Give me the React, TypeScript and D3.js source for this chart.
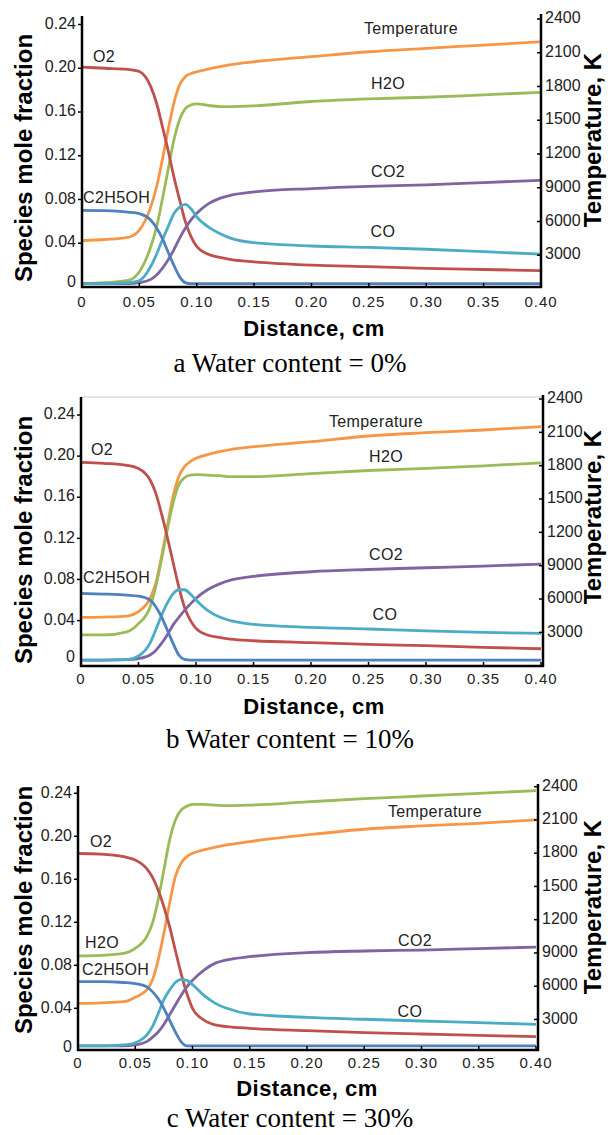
import React from 'react';
import * as d3 from 'd3';

// distance (cm) sample points shared by every series
const distance = [0, 0.02, 0.04, 0.05, 0.06, 0.065, 0.07, 0.075, 0.08, 0.085, 0.09, 0.095, 0.1, 0.11, 0.12, 0.13, 0.15, 0.2, 0.25, 0.3, 0.35, 0.4];

// a: water content 0%
const o2A = [0.201, 0.2, 0.199, 0.197, 0.183, 0.168, 0.147, 0.125, 0.101, 0.08, 0.06, 0.046, 0.037, 0.03, 0.027, 0.025, 0.023, 0.02, 0.0186, 0.017, 0.016, 0.015];
const tempA = [430, 440, 459, 524, 732, 909, 1146, 1413, 1650, 1813, 1887, 1915, 1931, 1955, 1976, 1995, 2020, 2065, 2109, 2139, 2168, 2198];
const h2oA = [0.003, 0.004, 0.006, 0.014, 0.037, 0.055, 0.08, 0.107, 0.134, 0.153, 0.163, 0.1665, 0.1675, 0.166, 0.165, 0.165, 0.1656, 0.1696, 0.172, 0.1735, 0.1757, 0.178];
const co2A = [0.003, 0.003, 0.003, 0.004, 0.007, 0.011, 0.017, 0.0247, 0.034, 0.0445, 0.0537, 0.0613, 0.0674, 0.076, 0.081, 0.084, 0.087, 0.09, 0.092, 0.0933, 0.0955, 0.0976];
const coA = [0.003, 0.003, 0.004, 0.006, 0.019, 0.03, 0.043, 0.055, 0.067, 0.073, 0.0755, 0.0715, 0.064, 0.055, 0.049, 0.0445, 0.0405, 0.0375, 0.0363, 0.0345, 0.0323, 0.03];
const ethA = [0.07, 0.0698, 0.0685, 0.067, 0.061, 0.054, 0.0445, 0.032, 0.02, 0.0095, 0.004, 0.003, 0.003, 0.003, 0.003, 0.003, 0.003, 0.003, 0.003, 0.003, 0.003, 0.003];

// b: water content 10%
const o2B = [0.194, 0.193, 0.191, 0.188, 0.177, 0.164, 0.144, 0.1215, 0.097, 0.073, 0.053, 0.0405, 0.0324, 0.026, 0.0237, 0.022, 0.0204, 0.0185, 0.0168, 0.0156, 0.014, 0.0126];
const tempB = [435, 438, 447, 486, 606, 741, 981, 1251, 1521, 1701, 1791, 1836, 1866, 1900, 1926, 1945, 1971, 2016, 2067, 2097, 2121, 2151];
const h2oB = [0.026, 0.026, 0.029, 0.037, 0.053, 0.073, 0.099, 0.128, 0.154, 0.172, 0.179, 0.1815, 0.182, 0.1815, 0.181, 0.18, 0.18, 0.183, 0.186, 0.188, 0.1905, 0.1935];
const co2B = [0.0016, 0.0016, 0.002, 0.003, 0.0065, 0.011, 0.0178, 0.026, 0.0356, 0.043, 0.05, 0.056, 0.0616, 0.07, 0.0755, 0.0794, 0.083, 0.0875, 0.0897, 0.0914, 0.093, 0.095];
const coB = [0.0016, 0.0016, 0.002, 0.0055, 0.018, 0.031, 0.045, 0.057, 0.066, 0.07, 0.07, 0.066, 0.06, 0.05, 0.0437, 0.04, 0.0363, 0.0334, 0.0318, 0.03, 0.0285, 0.0275];
const ethB = [0.0664, 0.0658, 0.0648, 0.0638, 0.06, 0.0535, 0.0437, 0.031, 0.018, 0.0065, 0.0023, 0.0016, 0.0016, 0.0016, 0.0016, 0.0016, 0.0016, 0.0016, 0.0016, 0.0016, 0.0016, 0.0016];

// c: water content 30%
const o2C = [0.184, 0.1835, 0.181, 0.178, 0.17, 0.162, 0.15, 0.1345, 0.116, 0.094, 0.0725, 0.054, 0.04, 0.029, 0.0245, 0.023, 0.0214, 0.0192, 0.0174, 0.0161, 0.0149, 0.0136];
const tempC = [445, 450, 460, 500, 566, 656, 836, 1077, 1348, 1589, 1709, 1769, 1799, 1830, 1854, 1875, 1905, 1965, 2016, 2046, 2070, 2100];
const h2oC = [0.0887, 0.0892, 0.091, 0.0958, 0.1066, 0.119, 0.1407, 0.1686, 0.1965, 0.215, 0.2244, 0.228, 0.2297, 0.2297, 0.229, 0.2285, 0.229, 0.232, 0.235, 0.2375, 0.24, 0.2424];
const co2C = [0.005, 0.005, 0.005, 0.006, 0.009, 0.013, 0.018, 0.025, 0.034, 0.043, 0.052, 0.06, 0.066, 0.0756, 0.082, 0.085, 0.088, 0.0918, 0.0933, 0.0942, 0.0955, 0.097];
const coC = [0.005, 0.005, 0.006, 0.008, 0.015, 0.023, 0.035, 0.048, 0.057, 0.064, 0.067, 0.066, 0.062, 0.052, 0.0446, 0.04, 0.0347, 0.0316, 0.0298, 0.0282, 0.0267, 0.025];
const ethC = [0.0648, 0.0648, 0.064, 0.063, 0.06, 0.0555, 0.049, 0.04, 0.029, 0.018, 0.009, 0.005, 0.005, 0.005, 0.005, 0.005, 0.005, 0.005, 0.005, 0.005, 0.005, 0.005];

const xTicks = [0, 0.05, 0.1, 0.15, 0.2, 0.25, 0.3, 0.35, 0.4];
const xTickLabels = ['0', '0.05', '0.10', '0.15', '0.20', '0.25', '0.30', '0.35', '0.40'];
const leftTicks = [0, 0.04, 0.08, 0.12, 0.16, 0.2, 0.24];
const leftTickLabels = ['0', '0.04', '0.08', '0.12', '0.16', '0.20', '0.24'];
const rightTicks = [300, 600, 900, 1200, 1500, 1800, 2100, 2400];
const rightTickLabels = ['3000', '6000', '9000', '1200', '1500', '1800', '2100', '2400'];

const colors = {
  O2: '#c0504d',
  Temperature: '#f79646',
  H2O: '#9bbb59',
  CO2: '#8064a2',
  CO: '#4bacc6',
  C2H5OH: '#4f81bd',
};

const SANS = '"Liberation Sans", Arial, sans-serif';
const SERIF = '"Liberation Serif", "Times New Roman", serif';

const panels = [
  {
    top: 0,
    caption: 'a Water content = 0%',
    series: { O2: o2A, H2O: h2oA, CO2: co2A, CO: coA, C2H5OH: ethA, Temperature: tempA },
    xRange: [82, 541], leftRange: [287, 24.5], rightRange: [289, 19],
    axisBottom: 287, axisTop: 16, rightX: 541, frame: false,
    xTickY: 303, distY: 330, distX: 314, capY: 366, leftTitleY: 158, rightTitleY: 140,
    labels: [
      { t: 'Temperature', x: 411, y: 30, a: 'middle' },
      { t: 'O2', x: 104, y: 58, a: 'middle' },
      { t: 'H2O', x: 388, y: 85, a: 'middle' },
      { t: 'CO2', x: 388, y: 173, a: 'middle' },
      { t: 'CO', x: 383, y: 233, a: 'middle' },
      { t: 'C2H5OH', x: 83, y: 199, a: 'start' },
    ],
  },
  {
    top: 380,
    caption: 'b Water content = 10%',
    series: { O2: o2B, H2O: h2oB, CO2: co2B, CO: coB, C2H5OH: ethB, Temperature: tempB },
    xRange: [81, 541], leftRange: [281.7, 35], rightRange: [285.7, 19],
    axisBottom: 286, axisTop: 17, rightX: 543, frame: true,
    xTickY: 300, distY: 328, distX: 314, capY: 362, leftTitleY: 160, rightTitleY: 137,
    labels: [
      { t: 'Temperature', x: 376, y: 43, a: 'middle' },
      { t: 'O2', x: 102, y: 71, a: 'middle' },
      { t: 'H2O', x: 386, y: 78, a: 'middle' },
      { t: 'CO2', x: 386, y: 176, a: 'middle' },
      { t: 'CO', x: 385, y: 236, a: 'middle' },
      { t: 'C2H5OH', x: 83, y: 199, a: 'start' },
    ],
  },
  {
    top: 760,
    caption: 'c Water content = 30%',
    series: { O2: o2C, H2O: h2oC, CO2: co2C, CO: coC, C2H5OH: ethC, Temperature: tempC },
    xRange: [78, 536], leftRange: [291.3, 33.3], rightRange: [292.7, 26.7],
    axisBottom: 290, axisTop: 26, rightX: 538, frame: false,
    xTickY: 304, distY: 330, distX: 307, capY: 361, leftTitleY: 150, rightTitleY: 147,
    labels: [
      { t: 'Temperature', x: 435, y: 53, a: 'middle' },
      { t: 'O2', x: 101, y: 83, a: 'middle' },
      { t: 'H2O', x: 102, y: 184, a: 'middle' },
      { t: 'CO2', x: 415, y: 182, a: 'middle' },
      { t: 'CO', x: 410, y: 253, a: 'middle' },
      { t: 'C2H5OH', x: 82, y: 211, a: 'start' },
    ],
  },
];

const drawOrder = ['Temperature', 'H2O', 'O2', 'CO2', 'CO', 'C2H5OH'];

const Panel = ({ p }: { p: typeof panels[number] }) => {
  const x = d3.scaleLinear().domain([0, 0.4]).range(p.xRange);
  const yL = d3.scaleLinear().domain([0, 0.24]).range(p.leftRange);
  const yR = d3.scaleLinear().domain([0, 2400]).range(p.rightRange);
  const leftX = p.xRange[0];

  const lineFor = (key: string) => {
    const vals = (p.series as any)[key] as number[];
    const ys = key === 'Temperature' ? yR : yL;
    const gen = d3
      .line<number>()
      .x((_, i) => x(distance[i]))
      .y((d) => ys(d))
      .curve(d3.curveMonotoneX);
    return gen(vals) || '';
  };

  return (
    <g transform={`translate(0,${p.top})`}>
      {p.frame && (
        <line x1={leftX} x2={p.rightX} y1={p.axisTop} y2={p.axisTop} stroke="#c8c8c8" strokeWidth={1} />
      )}
      {drawOrder.map((k) => (
        <path key={k} d={lineFor(k)} fill="none" stroke={(colors as any)[k]} strokeWidth={2.8} />
      ))}

      {/* axes */}
      <line x1={leftX} x2={leftX} y1={p.axisTop} y2={p.axisBottom + 1} stroke="#000" strokeWidth={2.5} />
      <line x1={p.rightX} x2={p.rightX} y1={p.axisTop - 2} y2={p.axisBottom + 1} stroke="#000" strokeWidth={2.5} />
      <line x1={leftX - 1} x2={p.rightX + 1} y1={p.axisBottom} y2={p.axisBottom} stroke="#000" strokeWidth={2.5} />

      {xTicks.map((t, i) => (
        <g key={`x${i}`}>
          <line x1={x(t)} x2={x(t)} y1={p.axisBottom} y2={p.axisBottom - 4} stroke="#000" strokeWidth={1.5} />
          <text x={x(t)} y={p.xTickY} textAnchor="middle" dominantBaseline="middle"
            fontFamily={SANS} fontSize={15} letterSpacing={1} fill="#222">{xTickLabels[i]}</text>
        </g>
      ))}
      {leftTicks.map((t, i) => (
        <g key={`l${i}`}>
          {t > 0 && <line x1={leftX - 4} x2={leftX} y1={yL(t)} y2={yL(t)} stroke="#000" strokeWidth={1.5} />}
          <text x={leftX - 6} y={t === 0 ? yL(t) - 4 : yL(t)} textAnchor="end" dominantBaseline="middle"
            fontFamily={SANS} fontSize={16} fill="#222">{leftTickLabels[i]}</text>
        </g>
      ))}
      {rightTicks.map((t, i) => (
        <g key={`r${i}`}>
          <line x1={p.rightX - 4} x2={p.rightX} y1={yR(t)} y2={yR(t)} stroke="#000" strokeWidth={1.5} />
          <text x={p.rightX + 4} y={yR(t)} textAnchor="start" dominantBaseline="middle"
            fontFamily={SANS} fontSize={16} fill="#222">{rightTickLabels[i]}</text>
        </g>
      ))}

      {p.labels.map((l) => (
        <text key={l.t} x={l.x} y={l.y} textAnchor={l.a as any} dominantBaseline="middle"
          fontFamily={SANS} fontSize={16} letterSpacing={0.4} fill="#222">{l.t}</text>
      ))}

      <text transform={`translate(26,${p.leftTitleY}) rotate(-90)`} textAnchor="middle" dominantBaseline="middle"
        fontFamily={SANS} fontSize={24} fontWeight="bold" fill="#000">Species mole fraction</text>
      <text transform={`translate(595,${p.rightTitleY}) rotate(-90)`} textAnchor="middle" dominantBaseline="middle"
        fontFamily={SANS} fontSize={24} fontWeight="bold" fill="#000">Temperature, K</text>
      <text x={p.distX} y={p.distY} textAnchor="middle" dominantBaseline="middle"
        fontFamily={SANS} fontSize={22} fontWeight="bold" letterSpacing={0.5} fill="#000">Distance, cm</text>
      <text x={290} y={p.capY} textAnchor="middle" dominantBaseline="middle"
        fontFamily={SERIF} fontSize={27} fill="#000">{p.caption}</text>
    </g>
  );
};

export default function App() {
  return (
    <svg width={608} height={1135} style={{ position: 'absolute', left: 0, top: 0, background: '#fff' }}>
      <rect width={608} height={1135} fill="#fff" />
      {panels.map((p) => (
        <Panel key={p.caption} p={p} />
      ))}
    </svg>
  );
}
